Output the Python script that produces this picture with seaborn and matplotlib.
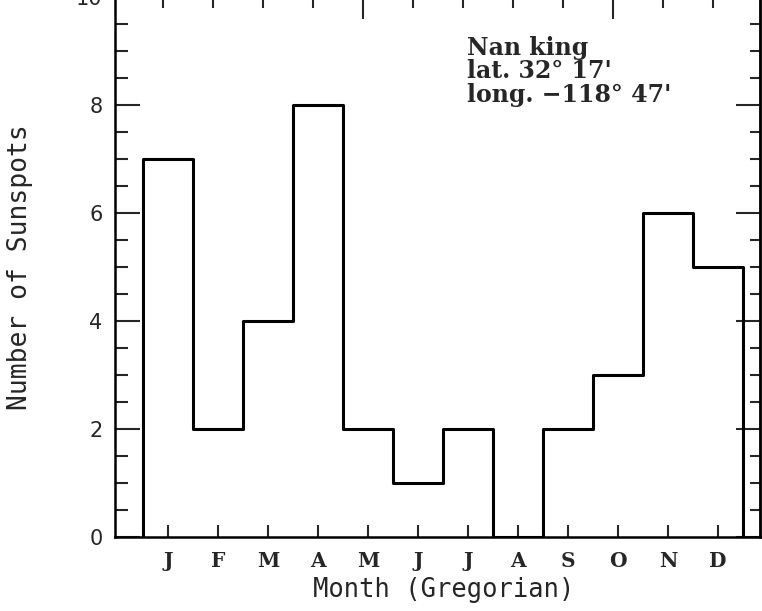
import numpy as np
import pandas as pd
import matplotlib
matplotlib.use("Agg")
import matplotlib.pyplot as plt
import seaborn as sns
from matplotlib.ticker import MultipleLocator, FixedLocator, NullFormatter

# ---- data ----
months = ["J", "F", "M", "A", "M", "J", "J", "A", "S", "O", "N", "D"]
sunspots = [7, 2, 4, 8, 2, 1, 2, 0, 2, 3, 6, 5]
yticks = [0, 2, 4, 6, 8, 10]
site_lines = ["Nan king", "lat. 32\u00b0 17'", "long. \u2212118\u00b0 47'"]

sns.set_style("ticks")
plt.rcParams["font.family"] = ["DejaVu Sans"]

fig = plt.figure(figsize=(7.62, 6.11), dpi=100)
ax = fig.add_axes([115/762, 1 - 537/611, 645/762, 540/611])

idx = np.arange(len(months))
df = pd.DataFrame({"month": idx, "count": sunspots})
sns.histplot(data=df, x="month", weights="count", discrete=True, element="step",
             fill=False, color="black", linewidth=2.2, ax=ax)
# close the outline at both ends
ax.vlines([idx[0] - 0.5, idx[-1] + 0.5], 0, [sunspots[0], sunspots[-1]],
          color="black", linewidth=2.2)

ax.set_xlim(-1.06, 11.84)
ax.set_ylim(0, 10)

for s in ax.spines.values():
    s.set_visible(True)
    s.set_linewidth(1.8)
    s.set_color("black")

# x ticks (bottom)
ax.set_xticks(idx)
ax.set_xticklabels(months, fontfamily="DejaVu Serif", fontweight="bold", fontsize=14.5)
ax.tick_params(axis="x", direction="in", length=8.5, width=1.5, pad=10, top=False)

# y ticks (left)
ax.yaxis.set_major_locator(FixedLocator(yticks))
ax.yaxis.set_minor_locator(MultipleLocator(0.5))
ax.tick_params(axis="y", which="major", direction="in", length=18, width=1.5,
               labelsize=15, pad=9, right=False)
ax.tick_params(axis="y", which="minor", direction="in", length=9.5, width=1.5, right=False)

# right axis ticks
ry = ax.secondary_yaxis("right")
ry.yaxis.set_major_locator(FixedLocator(yticks))
ry.yaxis.set_minor_locator(MultipleLocator(0.5))
ry.yaxis.set_major_formatter(NullFormatter())
ry.tick_params(which="major", direction="in", length=17, width=1.5)
ry.tick_params(which="minor", direction="in", length=7, width=1.5)
ry.spines["right"].set_linewidth(1.8)

# top axis ticks
tx = ax.secondary_xaxis("top")
tx.xaxis.set_major_locator(FixedLocator([3.9, 8.9]))
tx.xaxis.set_minor_locator(FixedLocator(idx - 0.1))
tx.xaxis.set_major_formatter(NullFormatter())
tx.tick_params(which="major", direction="in", length=16, width=1.5)
tx.tick_params(which="minor", direction="in", length=8, width=1.5)
tx.spines["top"].set_linewidth(1.8)

ax.set_xlabel("Month (Gregorian)", fontfamily="DejaVu Sans Mono", fontsize=18.4)
ax.xaxis.set_label_coords(0.51, -0.074)
ax.set_ylabel("Number of Sunspots", fontfamily="DejaVu Sans Mono", fontsize=19)
ax.yaxis.set_label_coords(-0.127, 0.5)

ax.text(5.98, 9.28, "\n".join(site_lines), ha="left", va="top",
        fontfamily="DejaVu Serif", fontweight="bold", fontsize=17,
        linespacing=0.97)

fig.savefig("out.png", dpi=100)
